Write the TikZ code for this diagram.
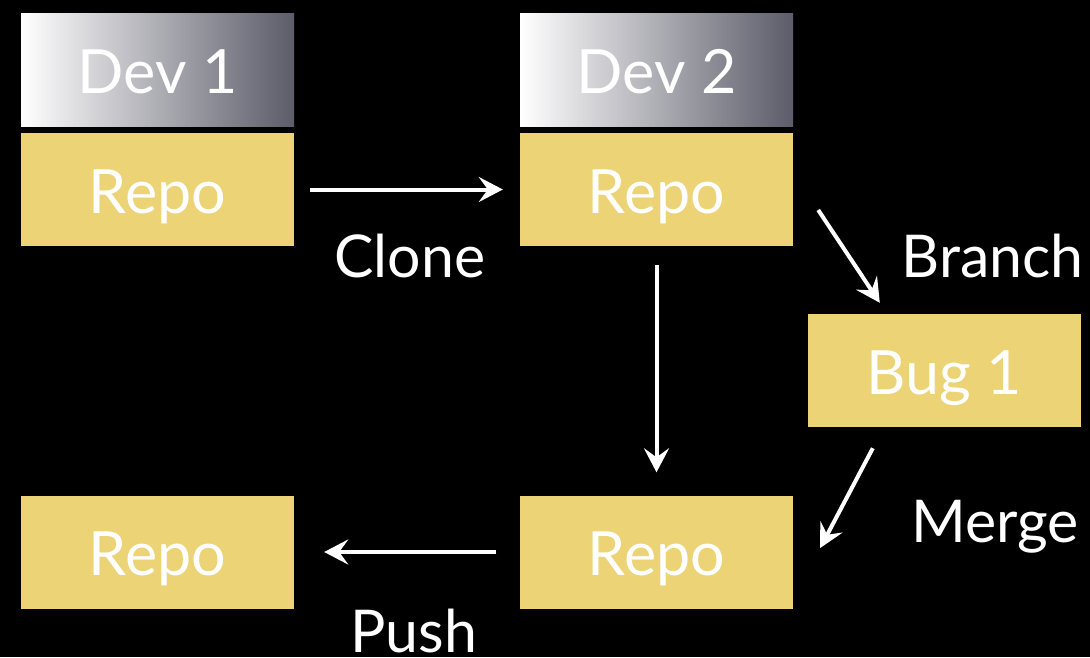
\documentclass[tikz,border=0pt]{standalone}
\usepackage{fontspec}
\setmainfont{Lato}
\usetikzlibrary{arrows.meta}
\definecolor{repoyellow}{RGB}{236,211,118}
\definecolor{devgray}{RGB}{92,92,106}
\tikzset{
  box/.style={rectangle, minimum width=273pt, minimum height=113pt, inner sep=0pt,
    text=white, font=\fontsize{61}{61}\selectfont, text height=47pt, text depth=0pt},
  repobox/.style={box, fill=repoyellow},
  devbox/.style={box, left color=white, right color=devgray},
  lbl/.style={text=white, font=\fontsize{59}{59}\selectfont, anchor=base, inner sep=0pt},
  arr/.style={white, line width=4pt, -{Stealth[length=24pt,width=25pt,inset=9pt]}}
}
\begin{document}
\begin{tikzpicture}[x=1pt,y=-1pt]
\fill[black] (0,0) rectangle (1090,657);
\useasboundingbox (0,0) rectangle (1090,657);
\node[devbox]  (dev1)  at (157.5,69.5)  {Dev 1};
\node[repobox] (repo1) at (157.5,189.5) {Repo};
\node[devbox]  (dev2)  at (656.5,69.5)  {Dev 2};
\node[repobox] (repo2) at (656.5,189.5) {Repo};
\node[repobox] (bug)   at (944.5,370.5) {Bug 1};
\node[repobox] (repo3) at (656.5,552)   {Repo};
\node[repobox] (repo4) at (157.5,552)   {Repo};
\node[lbl] (clone)  at (410,277)   {Clone};
\node[lbl] (branch) at (992.5,277) {Branch};
\node[lbl] (merge)  at (995,542)   {Merge};
\node[lbl, text depth=0pt] (push) at (414,652) {Push};
\draw[arr, shorten <=16pt, shorten >=17pt] (repo1.east) -- (repo2.west);
\draw[arr, shorten <=19pt, shorten >=23pt] (repo2.south) -- (repo3.north);
\draw[arr, shorten <=23.5pt, shorten >=30pt] (repo3.west) -- (repo4.east);
\draw[arr] ([xshift=25pt,yshift=-20.5pt]repo2.east) -- ([xshift=72pt,yshift=11pt]bug.north west);
\draw[arr] ([xshift=65pt,yshift=-21pt]bug.south west) -- ([xshift=27pt,yshift=4pt]repo3.east);
\end{tikzpicture}
\end{document}
